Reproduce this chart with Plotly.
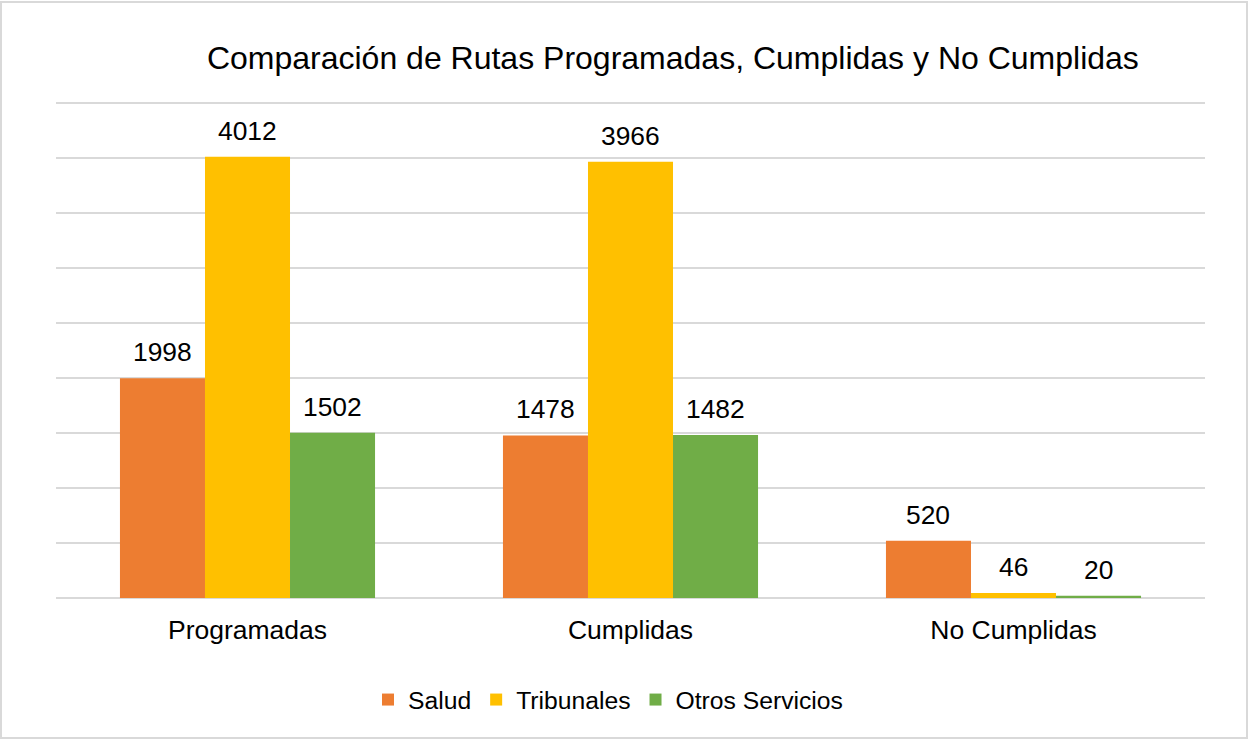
import plotly.graph_objects as go

categories = ["Programadas", "Cumplidas", "No Cumplidas"]
salud = [1998, 1478, 520]
tribunales = [4012, 3966, 46]
otros = [1502, 1482, 20]
series_names = ["Salud", "Tribunales", "Otros Servicios"]
colors = ["#ED7D31", "#FFC000", "#70AD47"]

FONT = "Arial, Liberation Sans, sans-serif"

W, H = 1249, 740
L, R, T, B = 56, 44, 102, 142
pw, ph = W - L - R, H - T - B
BARGAP = 0.334
cat_px = pw / len(categories)
bar_px = cat_px * (1 - BARGAP) / 3

fig = go.Figure()
annotations = []
for i, (name, vals, col) in enumerate(zip(series_names, [salud, tribunales, otros], colors)):
    fig.add_trace(go.Bar(
        x=categories, y=vals, name=name, marker=dict(color=col, line=dict(width=0)),
    ))
    for c, v in zip(categories, vals):
        annotations.append(dict(
            x=c, y=v, xref="x", yref="y", text=str(v), showarrow=False,
            xanchor="center", yanchor="middle", xshift=(i - 1) * bar_px, yshift=26,
            font=dict(family=FONT, size=26.4, color="#000000"),
        ))

def px(x):
    return (x - L) / pw

def py(y):
    return (H - B - y) / ph

fig.update_layout(
    width=W, height=H,
    margin=dict(l=L, r=R, t=T, b=B),
    paper_bgcolor="white", plot_bgcolor="white",
    barmode="group", bargap=BARGAP, bargroupgap=0,
    font=dict(family=FONT, color="#000000"),
    title=dict(text="Comparación de Rutas Programadas, Cumplidas y No Cumplidas",
               x=px(675), xanchor="center", y=1 - 58 / H, yanchor="middle",
               font=dict(family=FONT, size=32, color="#000000")),
    xaxis=dict(showline=False, ticks="", tickfont=dict(family=FONT, size=26.5, color="#000000"),
               ticklabelstandoff=13),
    yaxis=dict(range=[0, 4510], dtick=500, showticklabels=False, showgrid=True,
               gridcolor="#D9D9D9", gridwidth=2, zeroline=True, zerolinecolor="#D9D9D9",
               zerolinewidth=2, showline=False),
    legend=dict(orientation="h", x=px(608), xanchor="center", y=py(700), yanchor="middle",
                font=dict(family=FONT, size=24.7, color="#000000"), bgcolor="rgba(0,0,0,0)"),
    showlegend=True,
    annotations=annotations,
    shapes=[dict(type="rect", xref="paper", yref="paper",
                 x0=px(1), x1=px(1247), y0=py(738), y1=py(2),
                 line=dict(color="#D9D9D9", width=2), fillcolor="rgba(0,0,0,0)", layer="below")],
)

fig.write_html("out.html", config={"displayModeBar": False},
               post_script="document.body.style.margin='0';document.body.style.overflow='hidden';")
